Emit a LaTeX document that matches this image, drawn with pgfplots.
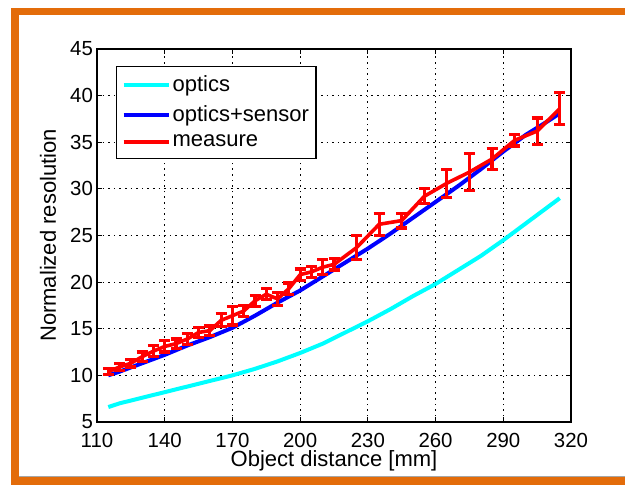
\documentclass[border=0pt]{standalone}
\usepackage{pgfplots}
\pgfplotsset{compat=1.18}
\usepackage{pgfplotstable}
\usepackage{fontspec}
\setmainfont{Liberation Sans}
\definecolor{frameorange}{RGB}{227,108,10}
\definecolor{mcyan}{RGB}{0,255,255}
\definecolor{mblue}{RGB}{0,0,255}
\definecolor{mred}{RGB}{255,0,0}

\pgfplotstableread{
x y
115 6.6
120 7.0
130 7.6
140 8.2
150 8.8
160 9.4
170 10.0
180 10.7
190 11.5
200 12.4
210 13.4
220 14.6
230 15.8
240 17.1
250 18.5
260 19.8
270 21.3
280 22.8
290 24.5
300 26.3
310 28.1
315 29.0
}\optics

\pgfplotstableread{
x y
115 10.0
120 10.4
130 11.3
140 12.2
150 13.2
160 14.1
170 15.1
180 16.4
190 17.8
200 19.1
210 20.6
220 22.1
230 23.6
240 25.2
250 26.9
260 28.6
270 30.3
280 32.1
290 34.0
300 35.8
310 37.3
315 38.1
}\sensor

\pgfplotstableread{
x y e
115 10.4 0.3
120 10.9 0.4
125 11.3 0.4
130 12.0 0.5
135 12.6 0.6
140 13.1 0.6
145 13.4 0.5
150 13.9 0.6
155 14.6 0.5
160 14.8 0.5
165 15.9 0.7
170 16.4 1.0
175 16.9 0.6
180 18.0 0.6
185 18.7 0.6
190 18.2 0.7
195 19.3 0.6
200 20.8 0.6
205 21.1 0.6
210 21.6 0.8
215 21.9 0.6
225 23.7 1.3
235 26.2 1.2
245 26.6 0.8
255 29.2 0.8
265 30.6 1.5
275 31.8 2.0
285 33.2 1.1
295 35.2 0.6
305 36.2 1.4
315 38.6 1.7
}\measure

\begin{document}
\begin{tikzpicture}
\useasboundingbox (0,0) rectangle (312.5pt,242.5pt);
\fill[white] (0,0) rectangle (312.5pt,242.5pt);
\fill[frameorange] (5.5pt,235pt) rectangle (312.5pt,238.5pt);
\fill[frameorange] (5.5pt,0pt) rectangle (9.5pt,238.5pt);
\fill[gray!70] (9.5pt,4pt) rectangle (312.5pt,4.6pt);
\fill[frameorange] (9.5pt,0pt) rectangle (312.5pt,4pt);
\begin{axis}[
  at={(48.5pt,31.5pt)}, anchor=south west,
  scale only axis, width=237pt, height=186.5pt,
  xmin=110, xmax=320, ymin=5, ymax=45,
  xtick={110,140,...,320}, ytick={5,10,...,45},
  tick align=inside, major tick length=2.5pt,
  tick style={black, line width=0.5pt},
  axis line style={black, line width=0.6pt},
  grid=major,
  major grid style={black, line width=0.5pt, dash pattern=on 0.8pt off 2pt},
  /pgf/number format/assume math mode=true,
  ticklabel style={font=\fontsize{10.2}{12}\selectfont},
  xticklabel style={yshift=-2pt},
  yticklabel style={xshift=1.5pt},
  label style={font=\fontsize{11}{13}\selectfont},
  xlabel={Object distance [mm]},
  ylabel={Normalized resolution},
  xlabel style={at={(axis description cs:0.5,0)}, anchor=base, yshift=-22.5pt},
  ylabel style={at={(axis description cs:-0.0865,0.5)}, anchor=base, rotate=0},
  legend cell align=left,
  legend image code/.code={\draw[#1] (0pt,0pt) -- (22.5pt,0pt);},
  legend style={at={(axis description cs:0,1)}, anchor=north west,
    xshift=9.5pt, yshift=-8.5pt, draw=black, line width=0.6pt,
    font=\fontsize{11}{13}\selectfont, inner xsep=2.5pt, inner ysep=3pt,
    row sep=2.3pt,
    /tikz/every even column/.append style={column sep=0pt},
    nodes={inner xsep=1pt, inner ysep=1.5pt}},
]
\addplot[mcyan, line width=2pt, no markers] table[x=x,y=y] {\optics};
\addlegendentry{optics}
\addplot[mblue, line width=2pt, no markers] table[x=x,y=y] {\sensor};
\addlegendentry{optics+sensor}
\addplot[mred, line width=1.8pt, no markers, line join=round,
  error bars/.cd, y dir=both, y explicit,
  error bar style={mred, line width=1.6pt},
  error mark options={rotate=90, mred, line width=1.6pt, mark size=2.75pt}]
  table[x=x,y=y,y error=e] {\measure};
\addlegendentry{measure}
\end{axis}
\end{tikzpicture}
\end{document}
